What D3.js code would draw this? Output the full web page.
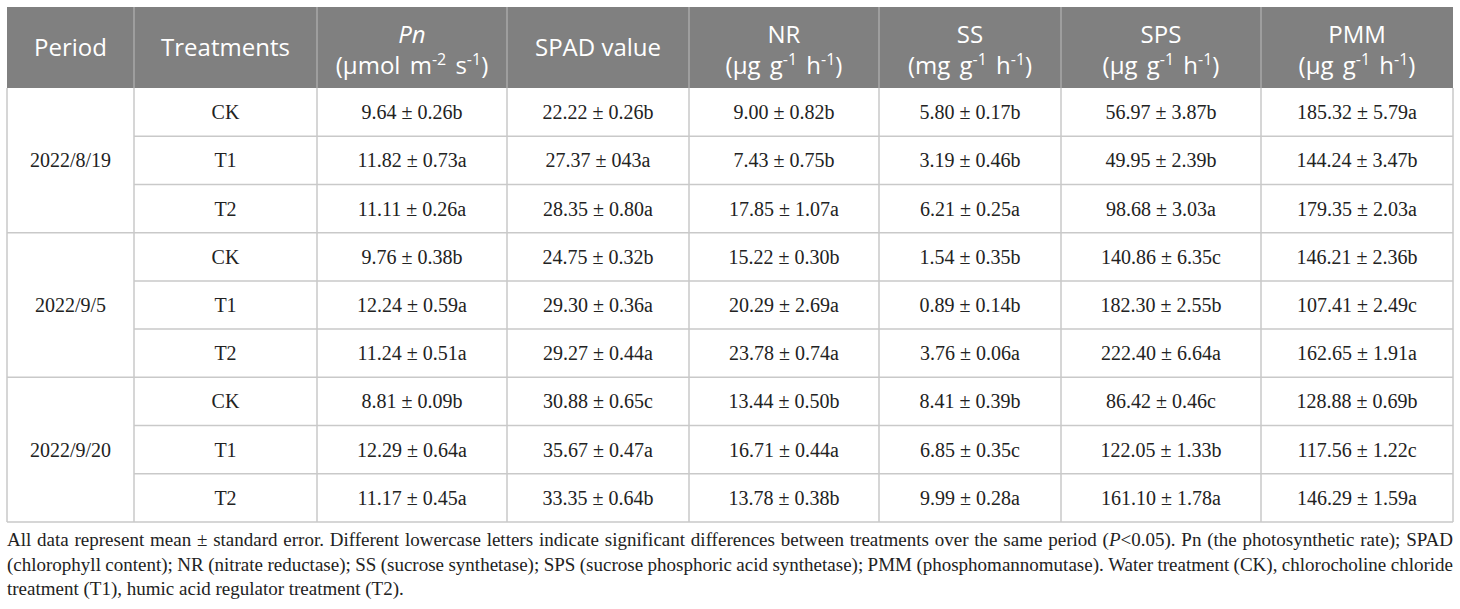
<!DOCTYPE html>
<html>
<head>
<meta charset="utf-8">
<script src="https://cdn.jsdelivr.net/npm/d3@7"></script>
<style>
  body { margin: 0; background: #fff; }
</style>
</head>
<body>
<svg id="table"></svg>
<script>
// --- table contents ---
var periods = ["2022/8/19", "2022/9/5", "2022/9/20"];
var treatments = ["CK", "T1", "T2"];

var headerNames = ["Period", "Treatments", "Pn", "SPAD value", "NR", "SS", "SPS", "PMM"];
var headerItalic = [false, false, true, false, false, false, false, false];
// unit pieces: even index = normal, odd index = superscript
var headerUnits = [
  null, null,
  ["(\u00b5mol m", "-2", " s", "-1", ")"],
  null,
  ["(\u00b5g g", "-1", " h", "-1", ")"],
  ["(mg g", "-1", " h", "-1", ")"],
  ["(\u00b5g g", "-1", " h", "-1", ")"],
  ["(\u00b5g g", "-1", " h", "-1", ")"]
];

// values, rows in order: 8/19 CK,T1,T2 ; 9/5 CK,T1,T2 ; 9/20 CK,T1,T2
var pnMean = [9.64, 11.82, 11.11, 9.76, 12.24, 11.24, 8.81, 12.29, 11.17];
var pnSE   = [0.26, 0.73, 0.26, 0.38, 0.59, 0.51, 0.09, 0.64, 0.45];
var pnSig  = ["b", "a", "a", "b", "a", "a", "b", "a", "a"];

var spadMean = [22.22, 27.37, 28.35, 24.75, 29.30, 29.27, 30.88, 35.67, 33.35];
var spadSE   = [0.26, "043", 0.80, 0.32, 0.36, 0.44, 0.65, 0.47, 0.64];
var spadSig  = ["b", "a", "a", "b", "a", "a", "c", "a", "b"];

var nrMean = [9.00, 7.43, 17.85, 15.22, 20.29, 23.78, 13.44, 16.71, 13.78];
var nrSE   = [0.82, 0.75, 1.07, 0.30, 2.69, 0.74, 0.50, 0.44, 0.38];
var nrSig  = ["b", "b", "a", "b", "a", "a", "b", "a", "b"];

var ssMean = [5.80, 3.19, 6.21, 1.54, 0.89, 3.76, 8.41, 6.85, 9.99];
var ssSE   = [0.17, 0.46, 0.25, 0.35, 0.14, 0.06, 0.39, 0.35, 0.28];
var ssSig  = ["b", "b", "a", "b", "b", "a", "b", "c", "a"];

var spsMean = [56.97, 49.95, 98.68, 140.86, 182.30, 222.40, 86.42, 122.05, 161.10];
var spsSE   = [3.87, 2.39, 3.03, 6.35, 2.55, 6.64, 0.46, 1.33, 1.78];
var spsSig  = ["b", "b", "a", "c", "b", "a", "c", "b", "a"];

var pmmMean = [185.32, 144.24, 179.35, 146.21, 107.41, 162.65, 128.88, 117.56, 146.29];
var pmmSE   = [5.79, 3.47, 2.03, 2.36, 2.49, 1.91, 0.69, 1.22, 1.59];
var pmmSig  = ["a", "b", "a", "b", "c", "a", "b", "c", "a"];

var footLines = [
  "All data represent mean \u00b1 standard error. Different lowercase letters indicate significant differences between treatments over the same period (*P*<0.05). Pn (the photosynthetic rate); SPAD",
  "(chlorophyll content); NR (nitrate reductase); SS (sucrose synthetase); SPS (sucrose phosphoric acid synthetase); PMM (phosphomannomutase). Water treatment (CK), chlorocholine chloride",
  "treatment (T1), humic acid regulator treatment (T2)."
];

// --- layout ---
var width = 1460, height = 609;
var leftX = 7, rightX = 1453, topY = 7, headBottom = 88, bottomY = 522;
var colWidths = [127, 183, 190, 182, 190, 182, 200, 192];
var gridColor = "#c9c9c9";
var headColor = "#808080";

var svg = d3.select("#table")
  .attr("width", width)
  .attr("height", height);

var colEdges = [leftX].concat(Array.from(d3.cumsum(colWidths), function(d) { return leftX + d; }));
var colScale = d3.scaleOrdinal().domain(d3.range(8)).range(colEdges.slice(0, 8));
var colMid = function(i) { return (colEdges[i] + colEdges[i + 1]) / 2; };

var rowScale = d3.scaleBand()
  .domain(d3.range(9))
  .range([headBottom, bottomY]);

var fmt = d3.format(".2f");
function cell(m, s, g) {
  return fmt(m) + " \u00b1 " + (typeof s === "string" ? s : fmt(s)) + g;
}

var columns = [
  [pnMean, pnSE, pnSig],
  [spadMean, spadSE, spadSig],
  [nrMean, nrSE, nrSig],
  [ssMean, ssSE, ssSig],
  [spsMean, spsSE, spsSig],
  [pmmMean, pmmSE, pmmSig]
];

// --- header ---
svg.append("rect")
  .attr("x", leftX)
  .attr("y", topY)
  .attr("width", rightX - leftX)
  .attr("height", headBottom - topY)
  .attr("fill", headColor);

svg.append("g")
  .selectAll("line")
  .data(d3.range(1, 8))
  .join("line")
    .attr("x1", d => colScale(d))
    .attr("x2", d => colScale(d))
    .attr("y1", topY)
    .attr("y2", headBottom)
    .attr("stroke", "#a8a8a8")
    .attr("stroke-width", 1.5);

var head = svg.append("g")
  .style("font-family", "'Open Sans', sans-serif")
  .style("font-size", "24px")
  .attr("fill", "#fff")
  .attr("text-anchor", "middle");

headerNames.forEach(function(name, i) {
  var units = headerUnits[i];
  head.append("text")
    .attr("x", colMid(i))
    .attr("y", units ? 43 : 56)
    .style("font-style", headerItalic[i] ? "italic" : "normal")
    .text(name);

  if (units) {
    var u = head.append("text")
      .attr("x", colMid(i))
      .attr("y", 74)
      .style("word-spacing", "3px");
    units.forEach(function(p, k) {
      var ts = u.append("tspan").text(p);
      if (k % 2 === 1) {
        ts.attr("dy", -9).style("font-size", "16px");
      } else if (k > 0) {
        ts.attr("dy", 9);
      }
    });
  }
});

// --- body ---
var body = svg.append("g")
  .style("font-family", "'Liberation Serif', 'Times New Roman', serif")
  .style("font-size", "20px")
  .attr("fill", "#222")
  .attr("text-anchor", "middle");

periods.forEach(function(p, g) {
  var y0 = rowScale(g * 3), y1 = rowScale(g * 3 + 2) + rowScale.bandwidth();
  body.append("text")
    .attr("x", colMid(0))
    .attr("y", (y0 + y1) / 2)
    .attr("dy", "0.35em")
    .text(p);
});

d3.range(9).forEach(function(r) {
  var yc = rowScale(r) + rowScale.bandwidth() / 2;
  body.append("text")
    .attr("x", colMid(1))
    .attr("y", yc)
    .attr("dy", "0.35em")
    .text(treatments[r % 3]);

  columns.forEach(function(c, j) {
    body.append("text")
      .attr("x", colMid(j + 2))
      .attr("y", yc)
      .attr("dy", "0.35em")
      .text(cell(c[0][r], c[1][r], c[2][r]));
  });
});

// --- grid ---
var grid = svg.append("g")
  .attr("stroke", gridColor)
  .attr("stroke-width", 1.5);

// row lines inside groups (skip period column)
grid.selectAll(".row-line")
  .data(d3.range(1, 9).filter(d => d % 3 !== 0))
  .join("line")
    .attr("x1", colScale(1))
    .attr("x2", rightX)
    .attr("y1", d => rowScale(d))
    .attr("y2", d => rowScale(d));

// group lines full width
grid.selectAll(".group-line")
  .data([3, 6])
  .join("line")
    .attr("x1", leftX)
    .attr("x2", rightX)
    .attr("y1", d => rowScale(d))
    .attr("y2", d => rowScale(d));

grid.append("line")
  .attr("x1", leftX).attr("x2", rightX)
  .attr("y1", bottomY).attr("y2", bottomY);

grid.selectAll(".col-line")
  .data(d3.range(0, 9))
  .join("line")
    .attr("x1", d => colEdges[d])
    .attr("x2", d => colEdges[d])
    .attr("y1", headBottom)
    .attr("y2", bottomY);

// --- footnote (justified) ---
var foot = svg.append("g")
  .style("font-family", "'Liberation Serif', 'Times New Roman', serif")
  .style("font-size", "19px")
  .attr("fill", "#222");

footLines.forEach(function(line, li) {
  var y = 546 + li * 24.5;
  var words = line.split(" ");
  var nodes = words.map(function(w) {
    var t = foot.append("text").attr("y", y);
    w.split("*").forEach(function(part, k) {
      if (part) t.append("tspan").style("font-style", k % 2 ? "italic" : "normal").text(part);
    });
    return t;
  });
  var widths = nodes.map(n => n.node().getComputedTextLength());
  var total = d3.sum(widths);
  var gap = li < footLines.length - 1 ? (rightX - leftX - total) / (words.length - 1) : 4.75;
  var x = leftX;
  nodes.forEach(function(n, k) {
    n.attr("x", x);
    x += widths[k] + gap;
  });
});
</script>
</body>
</html>
